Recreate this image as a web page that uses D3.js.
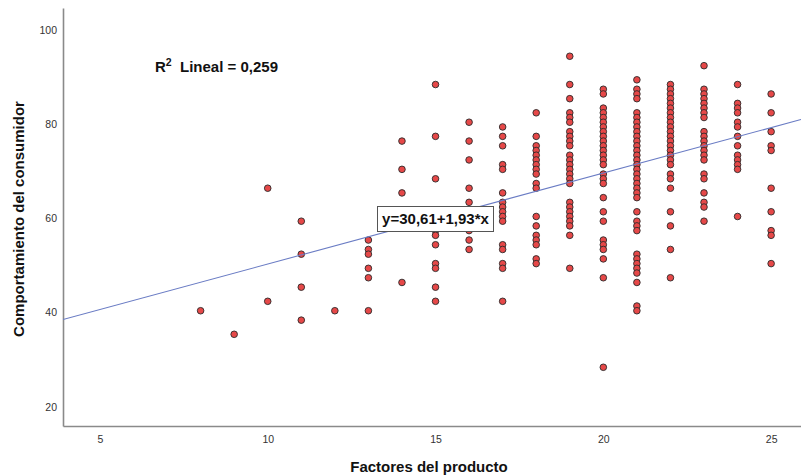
<!DOCTYPE html>
<html>
<head>
<meta charset="utf-8">
<script src="https://cdn.jsdelivr.net/npm/d3@7"></script>
<style>
  html, body { margin: 0; padding: 0; background: #fff; }
  svg { display: block; font-family: "Liberation Sans", Arial, sans-serif; }
</style>
</head>
<body>
<svg id="chart" width="801" height="475"></svg>
<script>
// Factores del producto (x) and, per level, the observed Comportamiento del consumidor scores
const productFactor = [8, 9, 10, 11, 12, 13, 14, 15, 16, 17, 18, 19, 20, 21, 22, 23, 24, 25];
const consumerBehaviour = [
  [40],
  [35],
  [66, 42],
  [59, 52, 45, 38],
  [40],
  [55, 53, 52, 49, 47, 40],
  [76, 70, 65, 46],
  [88, 77, 68, 57, 56, 54, 50, 49, 45, 42],
  [80, 76, 72, 66, 63, 57, 55, 53],
  [79, 77, 75, 71, 70, 65, 63, 62, 61, 60, 59, 54, 53, 50, 49, 42],
  [82, 77, 75, 74, 73, 72, 71, 70, 69, 67, 66, 60, 58, 56, 55, 54, 51, 50],
  [94, 88, 85, 82, 81, 80, 78, 77, 76, 75, 73, 72, 71, 70, 69, 68, 67, 63, 62, 61, 60, 59, 58, 56, 49],
  [87, 86, 83, 82, 81, 80, 79, 78, 77, 76, 75, 74, 73, 72, 71, 69, 68, 67, 64, 61, 59, 55, 54, 53, 51, 47, 28],
  [89, 87, 86, 85, 82, 81, 80, 79, 78, 77, 76, 75, 74, 73, 72, 71, 70, 69, 68, 67, 66, 65, 64, 61, 59, 58, 57, 52, 51, 50, 49, 48, 46, 41, 40],
  [88, 87, 86, 85, 84, 83, 82, 81, 80, 79, 78, 77, 76, 75, 74, 73, 72, 71, 69, 68, 66, 61, 58, 53, 47],
  [92, 87, 86, 85, 84, 83, 82, 81, 78, 77, 76, 75, 74, 73, 72, 69, 68, 65, 63, 62, 59],
  [88, 84, 83, 82, 80, 79, 77, 75, 73, 72, 71, 70, 60],
  [86, 82, 78, 75, 74, 66, 61, 57, 56, 50]
];
const xTicks = [5, 10, 15, 20, 25];
const yTicks = [20, 40, 60, 80, 100];
// Linear fit: intercept and slope, plus R squared
const fitCoefficients = [30.61, 1.93];
const rSquared = 0.259;

const points = [];
productFactor.forEach((xv, i) => consumerBehaviour[i].forEach(yv => points.push({ x: xv, y: yv })));

const svg = d3.select("#chart");
const plot = { left: 63, right: 801, top: 8, bottom: 426 };

const x = d3.scaleLinear().domain([3.9, 25.89]).range([plot.left, plot.right]);
const y = d3.scaleLinear().domain([15.54, 104.24]).range([plot.bottom, plot.top]);

const fmt = v => v.toFixed(2).replace(".", ",");

// clip for the fit line
svg.append("defs").append("clipPath").attr("id", "plotClip")
  .append("rect").attr("x", plot.left).attr("y", plot.top)
  .attr("width", plot.right - plot.left).attr("height", plot.bottom - plot.top);

// axes (no tick marks, only labels)
const xAxis = svg.append("g").attr("transform", `translate(0,${plot.bottom})`)
  .call(d3.axisBottom(x).tickValues(xTicks).tickSize(0).tickPadding(9).tickFormat(d3.format("d")));
const yAxis = svg.append("g").attr("transform", `translate(${plot.left},0)`)
  .call(d3.axisLeft(y).tickValues(yTicks).tickSize(0).tickPadding(6).tickFormat(d3.format("d")));

[xAxis, yAxis].forEach(g => {
  g.attr("color", "#333");
  g.select(".domain").attr("stroke", "#8a8a8a").attr("stroke-width", 1.6);
  g.selectAll("text").attr("font-size", "10.5px").attr("fill", "#333")
    .attr("font-family", "'Liberation Sans', Arial, sans-serif");
});
yAxis.selectAll("text").attr("dy", "0.5em");
xAxis.selectAll("text").attr("dy", "0.75em");

// points
svg.append("g").selectAll("circle").data(points).join("circle")
  .attr("cx", d => x(d.x)).attr("cy", d => y(d.y)).attr("r", 3.3)
  .attr("fill", "#e64848").attr("stroke", "#2a2a2a").attr("stroke-width", 0.9);

// fit line across the plotted x range
const fit = v => fitCoefficients[0] + fitCoefficients[1] * v;
const xd = x.domain();
svg.append("line").attr("clip-path", "url(#plotClip)")
  .attr("x1", x(xd[0])).attr("y1", y(fit(xd[0])))
  .attr("x2", x(xd[1])).attr("y2", y(fit(xd[1])))
  .attr("stroke", "#6a7cc4").attr("stroke-width", 1.1);

// equation label in a white box
svg.append("rect")
  .attr("x", 377.5).attr("y", 206.5).attr("width", 116).attr("height", 25)
  .attr("fill", "#fff").attr("stroke", "#555").attr("stroke-width", 1);
svg.append("text").attr("x", 435.5).attr("y", 219).attr("dy", "0.36em")
  .attr("text-anchor", "middle").attr("font-size", "15px").attr("font-weight", "bold").attr("fill", "#111")
  .text(`y=${fmt(fitCoefficients[0])}+${fmt(fitCoefficients[1])}*x`);

// R squared label
const r2 = svg.append("text").attr("x", 155).attr("y", 72)
  .attr("font-size", "15px").attr("font-weight", "bold").attr("fill", "#111");
r2.append("tspan").text("R");
r2.append("tspan").attr("dy", "-6").attr("font-size", "10.5px").text("2");
r2.append("tspan").attr("dy", "6").text("\u00a0 Lineal = " + rSquared.toFixed(3).replace(".", ","));

// axis titles
svg.append("text").attr("x", 429).attr("y", 472).attr("text-anchor", "middle")
  .attr("font-size", "15px").attr("font-weight", "bold").attr("fill", "#111")
  .text("Factores del producto");
svg.append("text").attr("transform", "translate(24,219) rotate(-90)").attr("text-anchor", "middle")
  .attr("font-size", "15px").attr("font-weight", "bold").attr("fill", "#111")
  .text("Comportamiento del consumidor");
</script>
</body>
</html>
